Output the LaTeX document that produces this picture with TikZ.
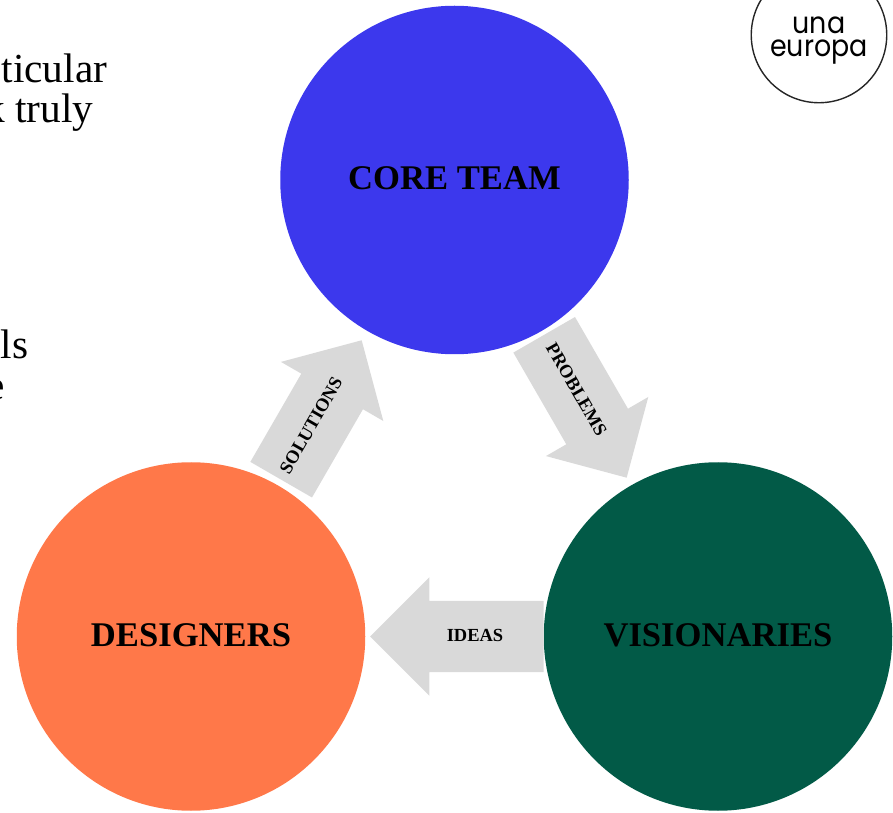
\documentclass[tikz,border=0pt]{standalone}
\usepackage{fontspec}
\setmainfont{Liberation Serif}
\newfontfamily\logofont{Poppins}
\usetikzlibrary{shapes.arrows}
\definecolor{coreblue}{HTML}{3C38ED}
\definecolor{designorange}{HTML}{FF7849}
\definecolor{visiongreen}{HTML}{025A47}
\definecolor{flowgray}{HTML}{D9D9D9}
\tikzset{
  team/.style={circle,inner sep=0pt,minimum size=6.97cm,text height=11.8pt,text depth=0pt,font=\fontsize{19.7}{24}\selectfont\bfseries},
  flow/.style={single arrow,fill=flowgray,anchor=tail,inner xsep=0pt,inner ysep=0.705cm,minimum width=2.35cm,single arrow head extend=0.47cm},
  flowtext/.style={inner sep=0pt,font=\fontsize{10.5}{12}\selectfont\bfseries},
  body/.style={anchor=base east,inner sep=0pt,font=\fontsize{23.5}{26}\selectfont},
  logotext/.style={inner sep=0pt,xscale=0.9,transform shape,font=\logofont\fontsize{17}{17}\selectfont}
}
\begin{document}
\begin{tikzpicture}
\useasboundingbox (0,0) rectangle (17.86,16.24);
\node[body] (t1) at (2.15,14.58) {ticular};
\node[body] (t2) at (1.87,13.78) {k truly};
\node[body] (t3) at (0.57,9.06) {ls};
\node[body] (t4) at (0.11,8.26) {e};

\node[team,fill=coreblue,text height=11pt] (core) at (9.09,12.64) {CORE TEAM};
\node[team,fill=designorange] (designers) at (3.82,3.51) {DESIGNERS};
\node[team,fill=visiongreen] (visionaries) at (14.36,3.51) {VISIONARIES};

\node[flow,rotate=60,minimum height=3.22cm] (solutions) at (5.62,6.64) {};
\node[flow,rotate=-60,minimum height=3.30cm] (problems) at (10.88,9.55) {};
\node[flow,shape border rotate=180,minimum height=3.47cm] (ideas) at (10.88,3.51) {};
\node[flowtext,rotate=60] (solutionstext) at (6.22,7.73) {SOLUTIONS};
\node[flowtext,rotate=-60] (problemstext) at (11.53,8.45) {PROBLEMS};
\node[flowtext] (ideastext) at (9.50,3.53) {IDEAS};

\node[circle,draw=black!85,line width=0.8pt,inner sep=0pt,minimum size=2.71cm] (logo) at (16.38,15.54) {};
\node[logotext] (una) at (16.38,15.74) {una};
\node[logotext] (europa) at (16.38,15.19) {europa};
\end{tikzpicture}
\end{document}
